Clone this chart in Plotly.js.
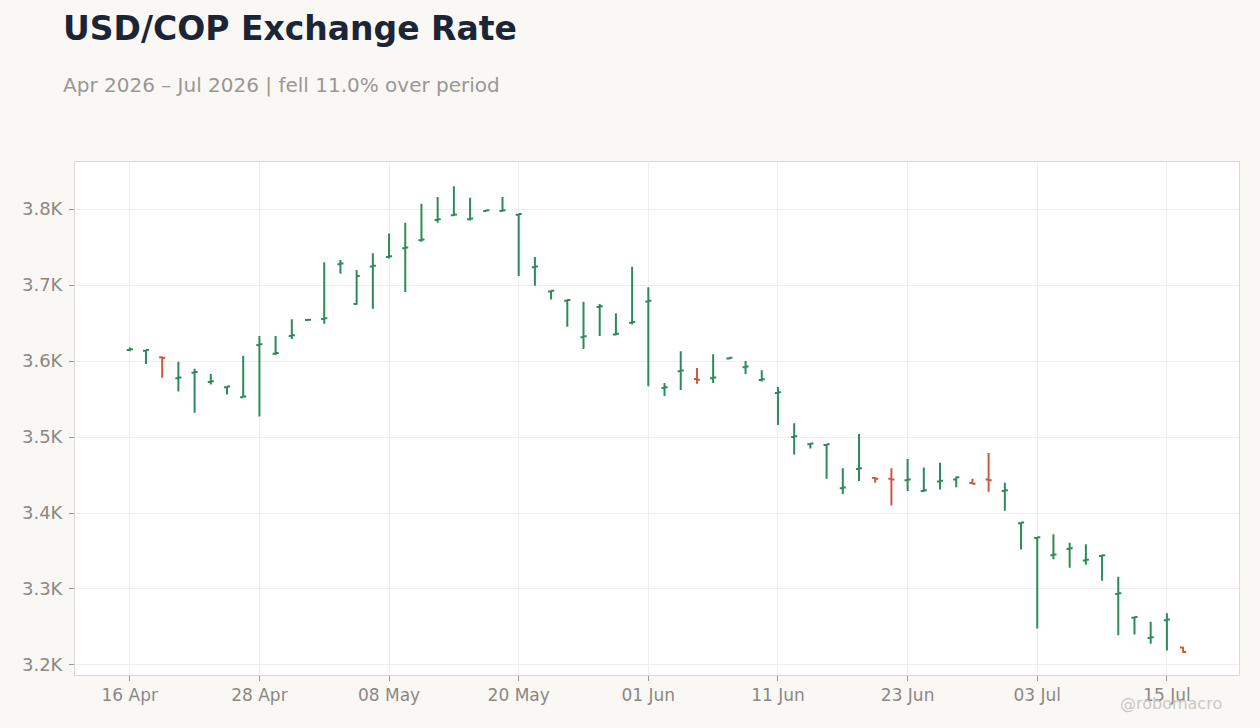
<!DOCTYPE html>
<html>
<head>
<meta charset="utf-8">
<script src="https://cdn.plot.ly/plotly-3.0.1.min.js"></script>
<style>
  html, body { margin: 0; padding: 0; background: #f9f8f5; }
  #chart { width: 1260px; height: 728px; }
</style>
</head>
<body>
<div id="chart"></div>
<script>
// daily USD/COP bars, weekdays only
const fechas = [
    "2026-04-16", "2026-04-17", "2026-04-20", "2026-04-21", "2026-04-22", "2026-04-23", "2026-04-24",
    "2026-04-27", "2026-04-28", "2026-04-29", "2026-04-30", "2026-05-01", "2026-05-04", "2026-05-05",
    "2026-05-06", "2026-05-07", "2026-05-08", "2026-05-11", "2026-05-12", "2026-05-13", "2026-05-14",
    "2026-05-15", "2026-05-18", "2026-05-19", "2026-05-20", "2026-05-21", "2026-05-22", "2026-05-25",
    "2026-05-26", "2026-05-27", "2026-05-28", "2026-05-29", "2026-06-01", "2026-06-02", "2026-06-03",
    "2026-06-04", "2026-06-05", "2026-06-08", "2026-06-09", "2026-06-10", "2026-06-11", "2026-06-12",
    "2026-06-15", "2026-06-16", "2026-06-17", "2026-06-18", "2026-06-19", "2026-06-22", "2026-06-23",
    "2026-06-24", "2026-06-25", "2026-06-26", "2026-06-29", "2026-06-30", "2026-07-01", "2026-07-02",
    "2026-07-03", "2026-07-06", "2026-07-07", "2026-07-08", "2026-07-09", "2026-07-10", "2026-07-13",
    "2026-07-14", "2026-07-15", "2026-07-16"
];

const aperturas = [
    3614.5, 3613.5, 3605, 3577.5, 3584.5, 3572.5, 3565.5,
    3552.5, 3621, 3609.5, 3633, 3654, 3655.5, 3727.5,
    3675, 3724.5, 3737, 3748.5, 3759, 3785.5, 3792,
    3786.5, 3797.5, 3797.5, 3792.5, 3723.5, 3691.5, 3679.5,
    3631.5, 3671, 3635, 3650.5, 3678.5, 3564.5, 3586.5,
    3576.5, 3577.5, 3603.5, 3592, 3575, 3558, 3500,
    3490.5, 3489.5, 3432.5, 3458, 3446, 3445, 3443,
    3429, 3441.5, 3444, 3439.5, 3444, 3429, 3386.5,
    3367, 3344.5, 3352.5, 3337.5, 3343.5, 3293.5, 3262,
    3235.5, 3259, 3223
];

const maximos = [
    3618, 3615, 3606, 3599, 3590, 3583, 3567,
    3607, 3633, 3633, 3655, 3655, 3730, 3733,
    3720, 3742, 3768, 3782, 3807, 3816, 3830,
    3815, 3799, 3816, 3794, 3737, 3693, 3681,
    3678, 3675, 3663, 3724, 3697, 3571, 3613,
    3591, 3609, 3605, 3600, 3588, 3566, 3518,
    3492, 3491, 3459, 3504, 3447, 3459, 3471,
    3460, 3466, 3448, 3445, 3479, 3440, 3388,
    3368.5, 3372, 3361, 3359, 3345, 3316, 3263,
    3257, 3268, 3223.5
];

const minimos = [
    3613, 3596, 3578, 3560, 3532, 3569, 3556,
    3552, 3527, 3608, 3629, 3653, 3649, 3715,
    3674, 3669, 3735, 3691, 3757, 3782, 3791,
    3785, 3797, 3797, 3712, 3699, 3681, 3645,
    3616, 3633, 3634, 3648, 3567, 3554, 3562,
    3570, 3571, 3602, 3583, 3573, 3516, 3477,
    3485, 3445, 3425, 3442, 3440, 3410, 3429,
    3428, 3431, 3434, 3438, 3428, 3403, 3352,
    3248, 3339, 3328, 3332, 3311, 3239, 3240,
    3228, 3219, 3216
];

const cierres = [
    3615.5, 3614.5, 3604, 3578.5, 3585.5, 3573.5, 3566.5,
    3553.5, 3622, 3610.5, 3634, 3654.5, 3656.5, 3728.5,
    3712, 3725.5, 3738, 3749.5, 3760, 3786.5, 3793,
    3787.5, 3798.5, 3798.5, 3793.5, 3724.5, 3692.5, 3680.5,
    3632.5, 3672, 3636, 3651.5, 3679.5, 3565.5, 3587.5,
    3575.5, 3578.5, 3604.5, 3593, 3576, 3559, 3501,
    3491.5, 3490.5, 3433.5, 3459, 3445, 3444, 3444,
    3430, 3442.5, 3447, 3438.5, 3443, 3430, 3387.5,
    3368, 3345.5, 3353.5, 3338.5, 3344.5, 3294.5, 3263,
    3236.5, 3260, 3217
];

const ticksX = ["2026-04-16", "2026-04-28", "2026-05-08", "2026-05-20", "2026-06-01",
                "2026-06-11", "2026-06-23", "2026-07-03", "2026-07-15"];
const ticksY = [3200, 3300, 3400, 3500, 3600, 3700, 3800];
const etiquetasY = ["3.2K", "3.3K", "3.4K", "3.5K", "3.6K", "3.7K", "3.8K"];

const fuente = "DejaVu Sans, sans-serif";

const trace = {
    type: "ohlc",
    x: fechas,
    open: aperturas,
    high: maximos,
    low: minimos,
    close: cierres,
    increasing: { line: { color: "#2e8b57", width: 2 } },
    decreasing: { line: { color: "#c95a3c", width: 2 } },
    tickwidth: 0.19,
    showlegend: false,
    hoverinfo: "skip"
};

const layout = {
    width: 1260,
    height: 728,
    paper_bgcolor: "#f9f8f5",
    plot_bgcolor: "#ffffff",
    margin: { l: 75, r: 21, t: 162, b: 53 },
    font: { family: fuente, color: "#8c8882", size: 17 },
    title: {
        text: "USD/COP Exchange Rate",
        x: 0.05, xref: "container", xanchor: "left",
        y: 0.9615, yref: "container", yanchor: "middle",
        font: { family: fuente, size: 33, weight: 700, color: "#1c2536" }
    },
    annotations: [
        {
            text: "Apr 2026 \u2013 Jul 2026 | fell 11.0% over period",
            xref: "paper", yref: "paper", x: -0.0122, y: 1.150,
            xanchor: "left", yanchor: "middle", showarrow: false,
            font: { family: fuente, size: 20, color: "#9b9791" }
        },
        {
            text: "@robomacro",
            xref: "paper", yref: "paper", x: 0.987, y: -0.0565,
            xanchor: "right", yanchor: "middle", showarrow: false,
            font: { family: fuente, size: 16, color: "#cbc8c3" }
        }
    ],
    xaxis: {
        type: "date",
        range: ["2026-04-10 14:53", "2026-07-21 10:48"],
        rangebreaks: [{ bounds: ["sat", "mon"] }],
        rangeslider: { visible: false },
        tickmode: "array",
        tickvals: ticksX,
        tickformat: "%d %b",
        ticks: "outside", ticklen: 5, tickcolor: "#9a9690",
        showgrid: true, gridcolor: "#f0efed",
        showline: true, mirror: true, linecolor: "#dcd8d2", linewidth: 1,
        zeroline: false
    },
    yaxis: {
        range: [3186.8, 3862],
        tickmode: "array",
        tickvals: ticksY,
        ticktext: etiquetasY,
        tickfont: { size: 18 },
        ticklabelstandoff: 3,
        ticks: "outside", ticklen: 5, tickcolor: "#9a9690",
        showgrid: true, gridcolor: "#f0efed",
        showline: true, mirror: true, linecolor: "#dcd8d2", linewidth: 1,
        zeroline: false
    }
};

Plotly.newPlot("chart", [trace], layout, { displayModeBar: false, staticPlot: true });
</script>
</body>
</html>
